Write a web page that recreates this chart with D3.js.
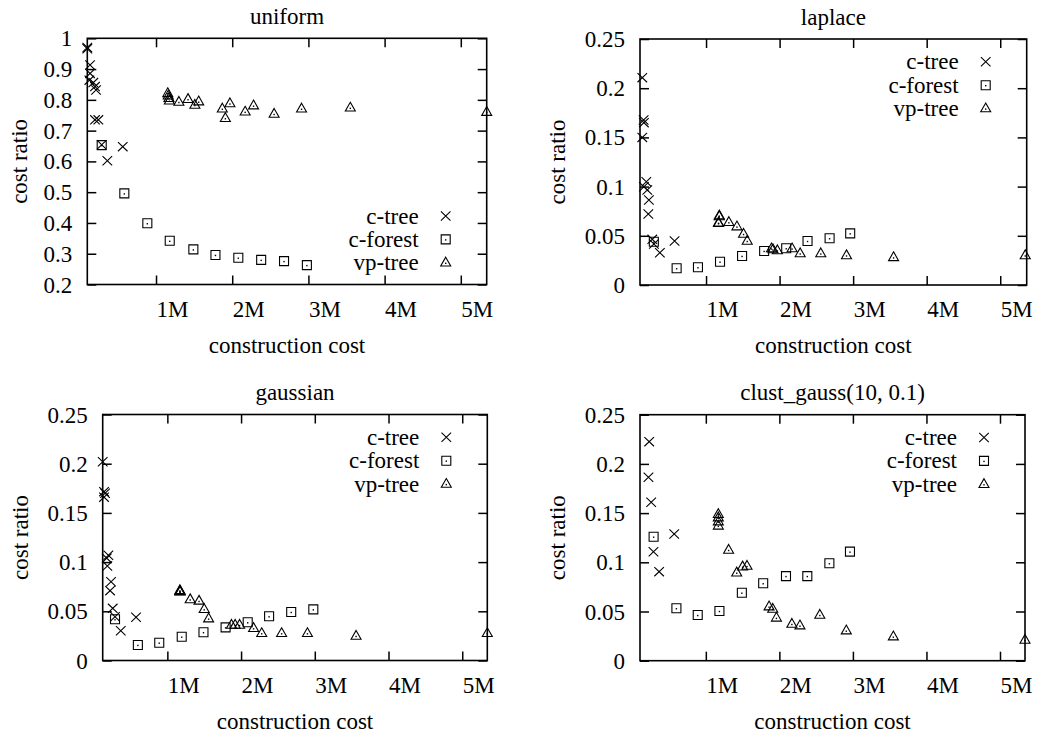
<!DOCTYPE html>
<html><head><meta charset="utf-8">
<script src="https://cdn.jsdelivr.net/npm/d3@7"></script>
<style>
body{margin:0;background:#fff}
text{font-family:"Liberation Serif","Times New Roman",Times,serif;font-size:23px;fill:#000}
</style>
</head><body>
<svg id="chart" width="1039" height="735"></svg>
<script>
// ---------- data ----------
const seriesNames = ["c-tree", "c-forest", "vp-tree"];
const xTickValues = [1e6, 2e6, 3e6, 4e6, 5e6];
const xTickLabels = ["1M", "2M", "3M", "4M", "5M"];
const uniformYTicks = [0.2, 0.3, 0.4, 0.5, 0.6, 0.7, 0.8, 0.9, 1];
const uniformYTickLabels = ["0.2", "0.3", "0.4", "0.5", "0.6", "0.7", "0.8", "0.9", "1"];
const smallYTicks = [0, 0.05, 0.1, 0.15, 0.2, 0.25];
const smallYTickLabels = ["0", "0.05", "0.1", "0.15", "0.2", "0.25"];

// uniform
const uniformCtreeX = [0.098e6,0.098e6,0.134e6,0.134e6,0.125e6,0.177e6,0.199e6,0.213e6,0.199e6,0.243e6,0.287e6,0.563e6,0.361e6];
const uniformCtreeY = [0.970,0.966,0.913,0.886,0.864,0.856,0.843,0.832,0.735,0.735,0.654,0.648,0.602];
const uniformCforestX = [0.287e6,0.584e6,0.886e6,1.18e6,1.49e6,1.78e6,2.08e6,2.38e6,2.68e6,2.98e6];
const uniformCforestY = [0.653,0.496,0.399,0.342,0.314,0.296,0.287,0.280,0.276,0.263];
const uniformVptreeX = [1.154e6,1.16e6,1.17e6,1.175e6,1.30e6,1.42e6,1.51e6,1.56e6,1.87e6,1.91e6,1.97e6,2.17e6,2.28e6,2.55e6,2.91e6,3.55e6,5.34e6];
const uniformVptreeY = [0.821,0.813,0.805,0.797,0.793,0.802,0.783,0.794,0.771,0.740,0.788,0.761,0.781,0.754,0.771,0.774,0.760];

// laplace
const laplaceCtreeX = [0.133e6,0.151e6,0.155e6,0.133e6,0.188e6,0.155e6,0.201e6,0.223e6,0.215e6,0.269e6,0.291e6,0.372e6,0.572e6];
const laplaceCtreeY = [0.2107,0.1677,0.165,0.150,0.105,0.0999,0.0965,0.0864,0.0722,0.0464,0.0417,0.0328,0.0447];
const laplaceCforestX = [0.29e6,0.60e6,0.89e6,1.19e6,1.49e6,1.79e6,2.09e6,2.38e6,2.68e6,2.96e6];
const laplaceCforestY = [0.044,0.017,0.018,0.0237,0.0295,0.0346,0.0373,0.0447,0.0475,0.0525];
const laplaceVptreeX = [1.18e6,1.18e6,1.17e6,1.17e6,1.31e6,1.42e6,1.51e6,1.56e6,1.89e6,1.91e6,1.97e6,2.17e6,2.28e6,2.56e6,2.91e6,3.55e6,5.34e6];
const laplaceVptreeY = [0.0705,0.0695,0.0627,0.0632,0.0637,0.0593,0.0518,0.0447,0.037,0.036,0.035,0.037,0.032,0.032,0.030,0.028,0.030];

// gaussian
const gaussianCtreeX = [0.123e6,0.141e6,0.155e6,0.141e6,0.20e6,0.178e6,0.186e6,0.236e6,0.223e6,0.259e6,0.29e6,0.368e6,0.575e6];
const gaussianCtreeY = [0.202,0.1716,0.170,0.166,0.107,0.104,0.096,0.080,0.071,0.053,0.0445,0.0303,0.0439];
const gaussianCforestX = [0.29e6,0.60e6,0.89e6,1.195e6,1.49e6,1.79e6,2.09e6,2.38e6,2.68e6,2.98e6];
const gaussianCforestY = [0.0419,0.0158,0.0181,0.0242,0.0287,0.0337,0.0388,0.0449,0.0493,0.052];
const gaussianVptreeX = [1.17e6,1.17e6,1.175e6,1.17e6,1.31e6,1.43e6,1.50e6,1.56e6,1.87e6,1.92e6,1.98e6,2.17e6,2.28e6,2.55e6,2.90e6,3.56e6,5.34e6];
const gaussianVptreeY = [0.0712,0.0705,0.070,0.0698,0.062,0.0605,0.052,0.0425,0.036,0.036,0.036,0.0327,0.0276,0.0276,0.0276,0.0249,0.0276];

// clust_gauss(10, 0.1)
const clustCtreeX = [0.23e6,0.22e6,0.257e6,0.288e6,0.365e6,0.57e6];
const clustCtreeY = [0.2226,0.1864,0.161,0.1108,0.0905,0.1288];
const clustCforestX = [0.29e6,0.60e6,0.89e6,1.185e6,1.49e6,1.78e6,2.09e6,2.38e6,2.68e6,2.96e6];
const clustCforestY = [0.126,0.0533,0.0464,0.0505,0.0691,0.0787,0.086,0.086,0.099,0.1108];
const clustVptreeX = [1.17e6,1.17e6,1.17e6,1.17e6,1.31e6,1.42e6,1.50e6,1.56e6,1.86e6,1.91e6,1.96e6,2.17e6,2.28e6,2.55e6,2.91e6,3.55e6,5.34e6];
const clustVptreeY = [0.1488,0.1453,0.1413,0.137,0.1125,0.0894,0.0955,0.0962,0.0549,0.0525,0.0435,0.0373,0.0356,0.0464,0.0305,0.0244,0.021];

// ---------- layout ----------
const panels = [
  {title:"uniform", left:87.3, right:486.7, top:38.3, bottom:284.5, xDomain:[0.098e6,5.34e6], yDomain:[0.2,1],
   yTicks:uniformYTicks, yLabels:uniformYTickLabels, legend:"bottom", yTitleX:20,
   series:[[uniformCtreeX,uniformCtreeY],[uniformCforestX,uniformCforestY],[uniformVptreeX,uniformVptreeY]]},
  {title:"laplace", left:640, right:1026.7, top:39, bottom:285, xDomain:[0.102e6,5.36e6], yDomain:[0,0.25],
   yTicks:smallYTicks, yLabels:smallYTickLabels, legend:"top", yTitleX:558,
   series:[[laplaceCtreeX,laplaceCtreeY],[laplaceCforestX,laplaceCforestY],[laplaceVptreeX,laplaceVptreeY]]},
  {title:"gaussian", left:102.7, right:487.3, top:414.5, bottom:660.5, xDomain:[0.123e6,5.34e6], yDomain:[0,0.25],
   yTicks:smallYTicks, yLabels:smallYTickLabels, legend:"top", yTitleX:21,
   series:[[gaussianCtreeX,gaussianCtreeY],[gaussianCforestX,gaussianCforestY],[gaussianVptreeX,gaussianVptreeY]]},
  {title:"clust_gauss(10, 0.1)", left:640, right:1025, top:414.7, bottom:660.7, xDomain:[0.105e6,5.34e6], yDomain:[0,0.25],
   yTicks:smallYTicks, yLabels:smallYTickLabels, legend:"top", yTitleX:558,
   series:[[clustCtreeX,clustCtreeY],[clustCforestX,clustCforestY],[clustVptreeX,clustVptreeY]]}
];

const markerPaths = [
  "M-4.8,-4.6L4.8,4.6M-4.8,4.6L4.8,-4.6",
  "M-4.5,-4.5H4.5V4.5H-4.5Z",
  "M0,-5.6L5,3.2H-5Z"
];
const hasDot = [false, true, true];

const svg = d3.select("#chart");
const TICK = 9;

function drawMarker(sel, si) {
  sel.append("path").attr("d", markerPaths[si]).attr("fill", "none")
     .attr("stroke", "#000").attr("stroke-width", 1.1).attr("stroke-linejoin", "miter");
  if (hasDot[si]) sel.append("rect").attr("x", -0.7).attr("y", -0.2).attr("width", 1.4).attr("height", 1.4).attr("fill", "#000");
}

panels.forEach(p => {
  const x = d3.scaleLinear().domain(p.xDomain).range([p.left, p.right]);
  const y = d3.scaleLinear().domain(p.yDomain).range([p.bottom, p.top]);
  const g = svg.append("g");

  // axes (ticks inward, mirrored)
  const bottom = g.append("g").attr("transform", `translate(0,${p.bottom})`)
    .call(d3.axisBottom(x).tickValues(xTickValues).tickFormat((d,i)=>xTickLabels[i]).tickSize(-TICK).tickPadding(15.7));
  bottom.selectAll("text").attr("text-anchor", "start");
  g.append("g").attr("transform", `translate(0,${p.top})`)
    .call(d3.axisTop(x).tickValues(xTickValues).tickFormat("").tickSize(-TICK));
  g.append("g").attr("transform", `translate(${p.left},0)`)
    .call(d3.axisLeft(y).tickValues(p.yTicks).tickFormat((d,i)=>p.yLabels[i]).tickSize(-TICK).tickPadding(15))
    .selectAll("text").attr("dy", "0.33em");
  g.append("g").attr("transform", `translate(${p.right},0)`)
    .call(d3.axisRight(y).tickValues(p.yTicks).tickFormat("").tickSize(-TICK));
  g.selectAll(".domain").remove();
  g.selectAll(".tick line").attr("stroke", "#000").attr("stroke-width", 1.5);

  // border
  g.append("rect").attr("x", p.left).attr("y", p.top)
    .attr("width", p.right - p.left).attr("height", p.bottom - p.top)
    .attr("fill", "none").attr("stroke", "#000").attr("stroke-width", 1.6);

  // titles
  const cx = (p.left + p.right) / 2;
  g.append("text").attr("x", cx).attr("y", p.top - 14.5).attr("text-anchor", "middle").text(p.title);
  g.append("text").attr("x", cx).attr("y", p.bottom + 68).attr("text-anchor", "middle").text("construction cost");
  g.append("text").attr("transform", `translate(${p.yTitleX},${(p.top + p.bottom) / 2}) rotate(-90)`)
    .attr("text-anchor", "middle").attr("dy", "0.3em").text("cost ratio");

  // points
  p.series.forEach((s, si) => {
    g.append("g").selectAll("g").data(d3.zip(s[0], s[1])).join("g")
      .attr("transform", d => `translate(${x(d[0])},${y(d[1])})`)
      .each(function() { drawMarker(d3.select(this), si); });
  });

  // legend
  const textX = p.right - 68;
  const markX = p.right - 41;
  const base0 = p.legend === "top" ? p.top + 30.3 : p.bottom - 61;
  seriesNames.forEach((name, si) => {
    const by = base0 + si * 23.4;
    g.append("text").attr("x", textX).attr("y", by).attr("text-anchor", "end").text(name);
    const m = g.append("g").attr("transform", `translate(${markX},${by - 7.5})`);
    drawMarker(m, si);
  });
});
</script>
</body></html>
